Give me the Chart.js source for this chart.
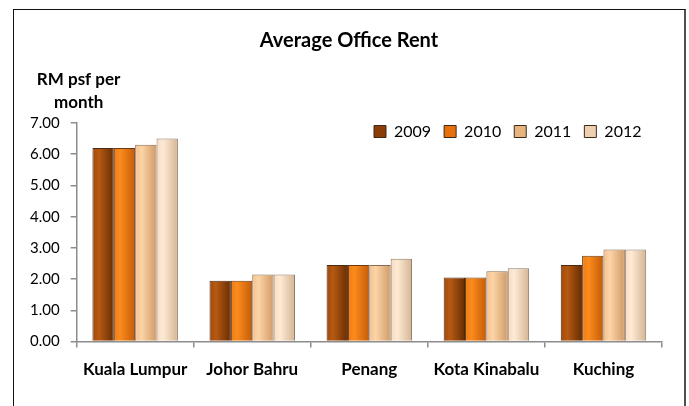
<!DOCTYPE html>
<html>
<head>
<meta charset="utf-8">
<title>Average Office Rent</title>
<script src="https://cdn.jsdelivr.net/npm/chart.js@4.4.1/dist/chart.umd.min.js"></script>
<style>
  html, body { margin: 0; padding: 0; background: #fff; overflow: hidden; }
  #frame { position: absolute; left: 13px; top: 9px; width: 670px; height: 420px;
           border-left: 1px solid #111; border-top: 1px solid #111; border-right: 2px solid #505050; }
  #wrap { position: absolute; left: 14px; top: 10px; width: 670px; height: 396px; }
</style>
</head>
<body>
<div id="frame"></div>
<div id="wrap"><canvas id="rentChart"></canvas></div>
<script>
// data (RM psf per month)
const cities = ['Kuala Lumpur', 'Johor Bahru', 'Penang', 'Kota Kinabalu', 'Kuching'];
const years = ['2009', '2010', '2011', '2012'];
const rent2009 = [6.20, 1.95, 2.45, 2.05, 2.45];
const rent2010 = [6.20, 1.95, 2.45, 2.05, 2.75];
const rent2011 = [6.30, 2.15, 2.45, 2.25, 2.95];
const rent2012 = [6.50, 2.15, 2.65, 2.35, 2.95];
const yMin = 0;
const yMax = 7;
const yStep = 1;

const CAT_PCT = 0.73;

// left -> highlight -> dark right edge, gives the rounded bar look
const shades = [
    ['#a2490b', '#b65a12', '#682c03'],
    ['#ef7c14', '#fb8b1d', '#c45c07'],
    ['#f4c08b', '#fdd4a6', '#cf9a66'],
    ['#f8dabb', '#feead5', '#d4b593']
];
const legendFill = ['#8c3d07', '#e8700c', '#e8b47e', '#eed0b0'];
const edgeColors = ['#4a2a12', '#6a3a14', '#8a6a50', '#8e7a68'];

function shade(stops) {
    return function (c) {
        const chart = c.chart;
        const xs = chart.scales.x;
        if (c.type !== 'data' || !xs || !chart.chartArea || !xs.width) return stops[1];
        const catW = xs.width / cities.length;
        const groupW = catW * CAT_PCT;
        const barW = groupW / years.length;
        const left = xs.getPixelForValue(c.dataIndex) - groupW / 2 + c.datasetIndex * barW;
        const g = chart.ctx.createLinearGradient(left, 0, left + barW, 0);
        g.addColorStop(0, stops[0]);
        g.addColorStop(0.3, stops[1]);
        g.addColorStop(1, stops[2]);
        return g;
    };
}

const series = [rent2009, rent2010, rent2011, rent2012];

// y axis caption sits above the axis, not rotated
const yCaption = {
    id: 'yCaption',
    afterDraw(chart) {
        const ca = chart.chartArea;
        const ctx = chart.ctx;
        ctx.save();
        ctx.font = 'bold 17px Lato';
        ctx.fillStyle = '#000';
        ctx.textAlign = 'center';
        ctx.textBaseline = 'middle';
        ctx.fillText('RM psf per', ca.left + 2, ca.top - 43);
        ctx.fillText('month', ca.left + 2, ca.top - 20);
        ctx.restore();
    }
};

// legend floats inside the plot, top right; title centred on the whole frame
const legendInside = {
    id: 'legendInside',
    afterInit(chart) {
        const lg = chart.legend;
        const fit = lg.fit;
        lg.fit = function () { fit.call(this); this.height = 0; };
    },
    afterLayout(chart) {
        const lg = chart.legend;
        const ca = chart.chartArea;
        lg.top = ca.top - 12.5;
        lg.bottom = lg.top + 45;
        lg.left = 347;
        lg.right = ca.right + 10;
        if (chart.titleBlock) {
            chart.titleBlock.left = 0;
            chart.titleBlock.right = chart.width;
        }
    }
};

new Chart(document.getElementById('rentChart'), {
    type: 'bar',
    data: {
        labels: cities,
        datasets: years.map((y, i) => ({
            label: y,
            data: series[i],
            backgroundColor: shade(shades[i]),
            borderColor: edgeColors[i],
            borderWidth: 1,
            categoryPercentage: CAT_PCT,
            barPercentage: 1
        }))
    },
    options: {
        responsive: true,
        maintainAspectRatio: false,
        animation: false,
        layout: { padding: { left: 5, right: 22, top: 0, bottom: 14 } },
        plugins: {
            title: {
                display: true,
                text: 'Average Office Rent',
                color: '#000',
                font: { family: 'Lato', size: 20, weight: 'bold' },
                padding: { top: 19, bottom: 70 }
            },
            legend: {
                position: 'top',
                align: 'start',
                labels: {
                    color: '#000',
                    font: { family: 'Lato', size: 16 },
                    boxWidth: 12,
                    boxHeight: 12,
                    padding: 13,
                    generateLabels(chart) {
                        const items = Chart.defaults.plugins.legend.labels.generateLabels(chart);
                        items.forEach((it, i) => {
                            it.fillStyle = legendFill[i];
                            it.strokeStyle = '#3a2a1a';
                            it.lineWidth = 1;
                        });
                        return items;
                    }
                }
            },
            tooltip: { enabled: false }
        },
        scales: {
            x: {
                grid: { display: true, drawOnChartArea: false, drawTicks: true, tickLength: 6, color: '#8c8c8c', lineWidth: 1.5 },
                border: { display: true, color: '#8c8c8c', width: 1.5 },
                ticks: {
                    color: '#000',
                    padding: 12,
                    font: { family: 'Lato', size: 17, weight: 'bold' }
                }
            },
            y: {
                min: yMin,
                max: yMax,
                grid: { display: true, drawOnChartArea: false, drawTicks: true, tickLength: 6, color: '#8c8c8c', lineWidth: 1.5 },
                border: { display: true, color: '#8c8c8c', width: 1.5 },
                ticks: {
                    stepSize: yStep,
                    color: '#000',
                    padding: 11,
                    font: { family: 'Lato', size: 15 },
                    callback: (v) => Number(v).toFixed(2)
                }
            }
        }
    },
    plugins: [yCaption, legendInside]
});
</script>
</body>
</html>
